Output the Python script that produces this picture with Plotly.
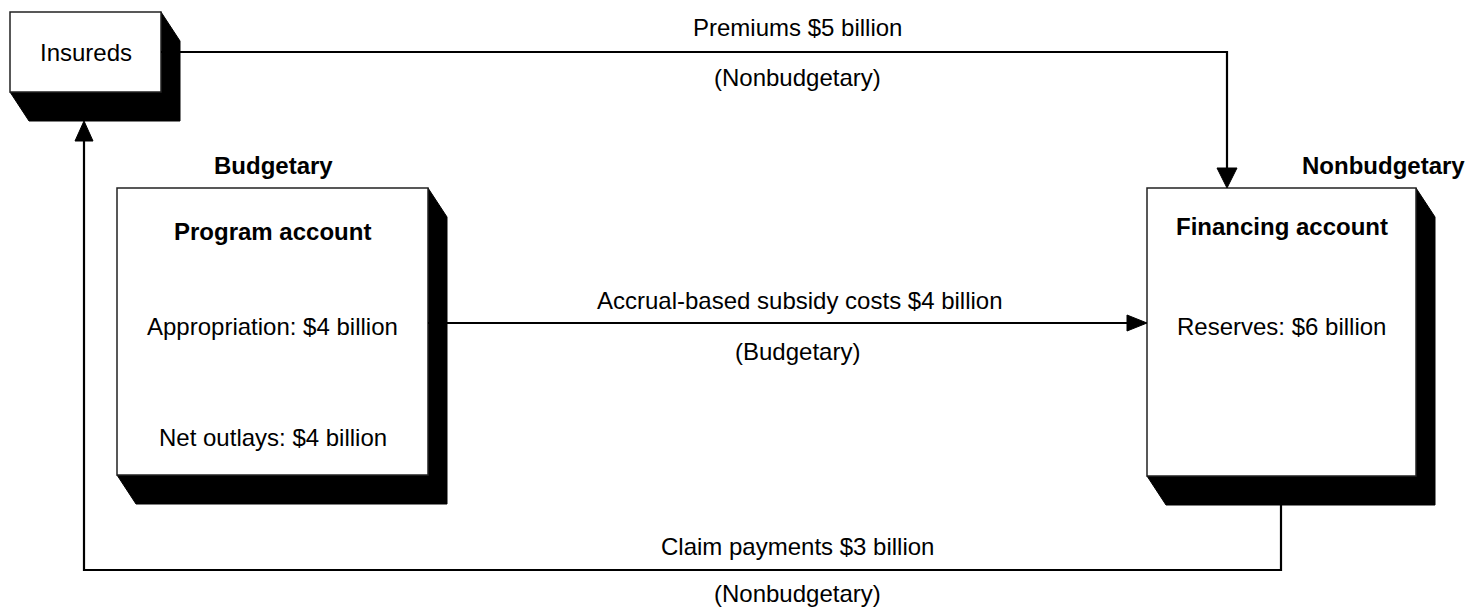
import plotly.graph_objects as go

# ---- content (text/values) ----
node_names = ["Insureds", "Program account", "Financing account"]
program_lines = ["Appropriation: $4 billion", "Net outlays: $4 billion"]
financing_lines = ["Reserves: $6 billion"]
group_labels = ["Budgetary", "Nonbudgetary"]
flow_labels = ["Premiums $5 billion", "Accrual-based subsidy costs $4 billion", "Claim payments $3 billion"]
flow_types = ["(Nonbudgetary)", "(Budgetary)", "(Nonbudgetary)"]

# ---- layout geometry (pixel space) ----
W, H = 1468, 607
boxes = {
    "ins": (10, 12, 161, 92),
    "prog": (117, 188, 428, 475),
    "fin": (1147, 188, 1416, 476),
}
SDX, SDY = 19, 29
FONT = "Liberation Sans, Arial, sans-serif"
FS = 24

fig = go.Figure()
shapes = []

def box(b):
    x0, y0, x1, y1 = b
    p = (f"M{x1},{y0} L{x1+SDX},{y0+SDY} L{x1+SDX},{y1+SDY} "
         f"L{x0+SDX},{y1+SDY} L{x0},{y1} Z")
    shapes.append(dict(type="path", path=p, fillcolor="black",
                       line=dict(color="black", width=1), xref="x", yref="y", layer="above"))
    shapes.append(dict(type="rect", x0=x0, y0=y0, x1=x1, y1=y1, fillcolor="white",
                       line=dict(color="#222", width=1.5), xref="x", yref="y", layer="above"))

for b in boxes.values():
    box(b)

def polyline(pts):
    p = "M" + " L".join(f"{x},{y}" for x, y in pts)
    shapes.append(dict(type="path", path=p, line=dict(color="black", width=2.2),
                       xref="x", yref="y", layer="above"))

def head(tip, direction, L=20, hw=9):
    x, y = tip
    if direction == "down":
        p = f"M{x},{y} L{x-hw},{y-L} L{x+hw},{y-L} Z"
    elif direction == "up":
        p = f"M{x},{y} L{x-hw},{y+L} L{x+hw},{y+L} Z"
    else:  # right
        p = f"M{x},{y} L{x-L},{y-hw} L{x-L},{y+hw} Z"
    shapes.append(dict(type="path", path=p, fillcolor="black",
                       line=dict(color="black", width=1), xref="x", yref="y", layer="above"))

ins, prog, fin = boxes["ins"], boxes["prog"], boxes["fin"]
# Premiums: Insureds -> Financing
py = 52
px = 1227
polyline([(ins[2], py), (px, py), (px, fin[1] - 18)])
head((px, fin[1]), "down", L=20, hw=10)
# Accrual
ay = 323
polyline([(prog[2], ay), (fin[0] - 18, ay)])
head((fin[0], ay), "right", L=20, hw=8)
# Claims
cx_start = 1281
cy = 570
cx_end = 84
polyline([(cx_start, fin[3] + SDY), (cx_start, cy), (cx_end, cy), (cx_end, ins[3] + SDY + 18)])
head((cx_end, ins[3] + SDY), "up", L=20, hw=9)

anns = []
def text(x, y, s, bold=False):
    anns.append(dict(x=x, y=y, xref="x", yref="y", text=f"<b>{s}</b>" if bold else s,
                     showarrow=False, xanchor="center", yanchor="middle",
                     font=dict(family=FONT, size=FS, color="black")))

text(85.5, 52, node_names[0])
text(272.5, 231, node_names[1], bold=True)
text(272.5, 326, program_lines[0])
text(272.5, 437, program_lines[1])
text(1281.5, 226, node_names[2], bold=True)
text(1281.5, 326, financing_lines[0])
text(273, 165, group_labels[0], bold=True)
text(1383, 165, group_labels[1], bold=True)
mid = 797.5
text(mid, 27, flow_labels[0]); text(mid, 77, flow_types[0])
text(799.5, 300, flow_labels[1]); text(mid, 351, flow_types[1])
text(mid, 546, flow_labels[2]); text(mid, 593, flow_types[2])

fig.update_layout(
    width=W, height=H, margin=dict(l=0, r=0, t=0, b=0),
    paper_bgcolor="white", plot_bgcolor="white",
    xaxis=dict(range=[0, W], visible=False, fixedrange=True),
    yaxis=dict(range=[H, 0], visible=False, fixedrange=True),
    shapes=shapes, annotations=anns, showlegend=False,
)
fig.write_html("out.html", config={"displayModeBar": False},
               post_script="document.body.style.margin='0';document.body.style.overflow='hidden';")
